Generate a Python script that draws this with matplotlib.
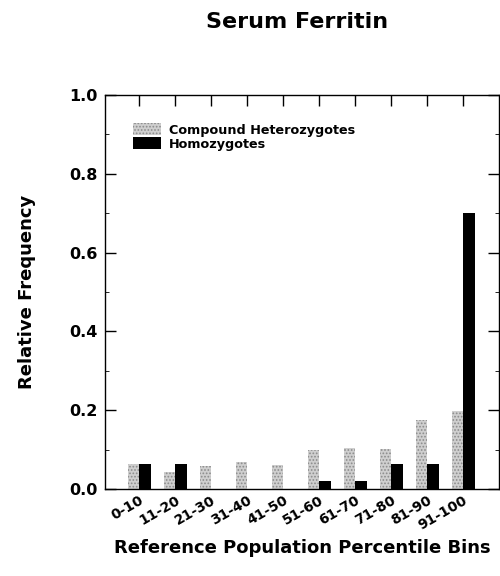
import matplotlib
matplotlib.use("Agg")
import matplotlib.pyplot as plt
import numpy as np
from matplotlib.ticker import MultipleLocator, FixedLocator

categories = ["0-10", "11-20", "21-30", "31-40", "41-50",
              "51-60", "61-70", "71-80", "81-90", "91-100"]
compound_het = [0.063, 0.043, 0.058, 0.069, 0.061, 0.099, 0.104, 0.101, 0.175, 0.198]
homozygotes = [0.063, 0.063, 0.0, 0.0, 0.0, 0.021, 0.021, 0.063, 0.063, 0.70]

plt.rcParams['font.family'] = ['DejaVu Sans']
plt.rcParams['hatch.linewidth'] = 0.8

fig = plt.figure(figsize=(5.0, 5.76), dpi=100)
ax = fig.add_axes([0.21, 0.151, 0.788, 0.684])

x = np.arange(len(categories))
w = 0.32
ax.bar(x - w / 2, compound_het, width=w, color='#cfcfcf', hatch='.....',
       edgecolor='#8c8c8c', linewidth=0, label='Compound Heterozygotes')
ax.bar(x + w / 2, homozygotes, width=w, color='black', linewidth=0,
       label='Homozygotes')

ax.set_xlim(-0.95, 10.0)
ax.set_ylim(0, 1.0)
ax.yaxis.set_major_locator(FixedLocator(np.arange(0, 1.01, 0.2)))
ax.yaxis.set_minor_locator(MultipleLocator(0.1))
ax.set_yticklabels([f"{v:.1f}" for v in np.arange(0, 1.01, 0.2)],
                   fontsize=11.5, fontweight='bold')
ax.set_xticks(x)
ax.set_xticklabels(categories, rotation=30, ha='right', rotation_mode='anchor',
                   fontsize=10, fontweight='bold')
ax.tick_params(axis='both', which='major', direction='in', length=8, width=1,
               top=True, right=True, pad=5)
ax.tick_params(axis='y', which='minor', direction='in', length=3, width=0.6,
               left=True, right=True)
ax.tick_params(axis='x', which='major', bottom=False, pad=3)
for s in ax.spines.values():
    s.set_linewidth(1.0)

ax.set_ylabel('Relative Frequency', fontsize=13, fontweight='bold', labelpad=24)
ax.set_xlabel('Reference Population Percentile Bins', fontsize=13,
              fontweight='bold', labelpad=5)
fig.text(0.594, 0.962, 'Serum Ferritin', ha='center', va='center',
         fontsize=16, fontweight='bold')

leg = ax.legend(loc='upper left', bbox_to_anchor=(0.055, 0.945), frameon=False,
                borderpad=0, handlelength=2.2, handleheight=1.1, labelspacing=0.05,
                handletextpad=0.6, prop={'size': 9.2, 'weight': 'bold'})

fig.savefig('out.png', dpi=100)
